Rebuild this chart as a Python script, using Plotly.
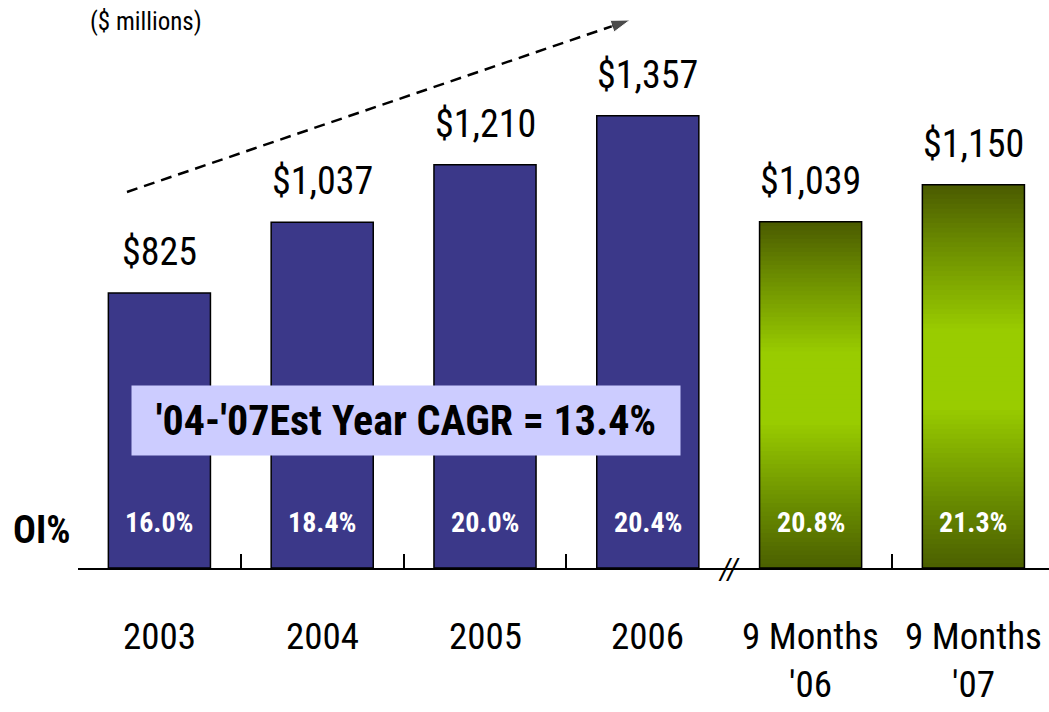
import plotly.graph_objects as go

categories = ["2003", "2004", "2005", "2006", "9 Months<br>'06", "9 Months<br>'07"]
op_income = [825, 1037, 1210, 1357, 1039, 1150]
value_labels = ["$825", "$1,037", "$1,210", "$1,357", "$1,039", "$1,150"]
oi_pct = ["16.0%", "18.4%", "20.0%", "20.4%", "20.8%", "21.3%"]
is_annual = [True, True, True, True, False, False]
cagr_text = "'04-'07Est Year CAGR = 13.4%"
unit_text = "($ millions)"

FONT = "Roboto Condensed, Liberation Sans Narrow, Arial Narrow, sans-serif"
NAVY = "#3b3889"
BAR_W = 0.627
xs = list(range(len(categories)))

# gradient stops for the green bars (fraction of bar height from bottom -> rgb)
stops = [(0.0, (75, 95, 0)), (0.18, (105, 140, 0)), (0.42, (153, 204, 0)),
         (0.62, (153, 204, 0)), (0.85, (106, 138, 0)), (1.0, (74, 90, 0))]


def grad_color(f):
    for (f0, c0), (f1, c1) in zip(stops[:-1], stops[1:]):
        if f0 <= f <= f1:
            t = (f - f0) / (f1 - f0)
            c = [round(a + (b - a) * t) for a, b in zip(c0, c1)]
            return "rgb(%d,%d,%d)" % tuple(c)
    return "rgb(%d,%d,%d)" % stops[-1][1]


fig = go.Figure()

# annual bars (navy)
ax_ = [x for x, a in zip(xs, is_annual) if a]
ay_ = [v for v, a in zip(op_income, is_annual) if a]
fig.add_trace(go.Bar(x=ax_, y=ay_, width=BAR_W, marker=dict(color=NAVY, line=dict(color="black", width=1.5)),
                     hoverinfo="skip", showlegend=False))

# nine-month bars: vertical gradient from overlapping slices (each slice reaches the bar top)
gx = [x for x, a in zip(xs, is_annual) if not a]
gy = [v for v, a in zip(op_income, is_annual) if not a]
N = 80
for k in range(N):
    fmid = (k + 0.5) / N
    fig.add_trace(go.Bar(x=gx, y=[v * (1 - k / N) for v in gy], base=[v * k / N for v in gy], width=BAR_W,
                         marker=dict(color=grad_color(fmid), line=dict(width=0)),
                         hoverinfo="skip", showlegend=False))
fig.add_trace(go.Bar(x=gx, y=gy, width=BAR_W, marker=dict(color="rgba(0,0,0,0)", line=dict(color="black", width=1.5)),
                     hoverinfo="skip", showlegend=False))

# dashed trend arrow
fig.add_trace(go.Scatter(x=[-0.199, 2.891], y=[1128, 1644], mode="lines+markers",
                         line=dict(color="black", width=2.5, dash="11px,7px"),
                         marker=dict(symbol=["circle", "arrow"], size=[0, 20], angleref="previous", color="black"),
                         hoverinfo="skip", showlegend=False))

ann = []
for x, v, lab in zip(xs, op_income, value_labels):
    ann.append(dict(x=x, y=v, text=lab, showarrow=False, yanchor="bottom", yshift=17,
                    font=dict(family=FONT, size=38, color="black")))
for x, p in zip(xs, oi_pct):
    ann.append(dict(x=x, y=138, text="<b>" + p + "</b>", showarrow=False, yanchor="middle",
                    font=dict(family=FONT, size=28, color="white")))
for x, c in zip(xs, categories):
    ann.append(dict(x=x, y=0, yref="paper", text=c, showarrow=False, yanchor="top", yshift=-45,
                    font=dict(family=FONT, size=37, color="black")))
ann.append(dict(x=1.515, y=444, text="<b>" + cagr_text + "</b>", showarrow=False, bgcolor="#ccccff",
                width=546, height=67, font=dict(family=FONT, size=42, color="black")))
ann.append(dict(x=(88 - 78) / 971, xref="paper", y=1 - 22 / 568, yref="paper", text=unit_text, showarrow=False,
                xanchor="left", yanchor="middle", font=dict(family=FONT, size=25, color="black")))
ann.append(dict(x=(41 - 78) / 971, xref="paper", y=114, text="<b>OI%</b>", showarrow=False,
                xanchor="center", yanchor="middle", font=dict(family=FONT, size=38, color="black")))
ann.append(dict(x=3.5, y=0, text="<i>//</i>", showarrow=False, yanchor="middle",
                font=dict(family=FONT, size=30, color="black")))

fig.update_layout(
    width=1049, height=712, barmode="overlay",
    margin=dict(l=78, r=0, t=0, b=144),
    plot_bgcolor="white", paper_bgcolor="white",
    xaxis=dict(range=[-0.5, -0.5 + 971 / 162.8], tickvals=[-0.5, 0.5, 1.5, 2.5, 4.5], ticktext=[""] * 5,
               ticks="inside", ticklen=14, tickwidth=1.5, tickcolor="black",
               showline=True, linecolor="black", linewidth=1.5, showgrid=False, zeroline=False, fixedrange=True),
    yaxis=dict(range=[0, 1704], visible=False, fixedrange=True),
    annotations=ann,
)
fig.write_html("out.html", config={"displayModeBar": False},
               post_script="document.body.style.margin='0';")
